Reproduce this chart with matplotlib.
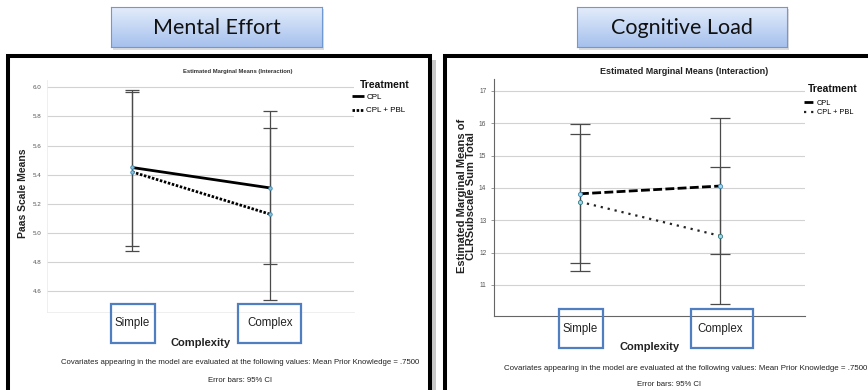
import matplotlib
matplotlib.use('Agg')
import matplotlib.pyplot as plt
import numpy as np
from matplotlib.patches import Rectangle
from matplotlib.colors import LinearSegmentedColormap

plt.rcParams['font.family'] = ['Liberation Sans', 'DejaVu Sans']

# ---------------- data ----------------
categories = ['Simple', 'Complex']
treatments = ['CPL', 'CPL + PBL']

me_cpl_mean = [5.45, 5.31]
me_cpl_low = [4.91, 4.79]
me_cpl_high = [5.98, 5.84]
me_pbl_mean = [5.42, 5.13]
me_pbl_low = [4.88, 4.54]
me_pbl_high = [5.97, 5.72]
me_yticks = [4.6, 4.8, 5.0, 5.2, 5.4, 5.6, 5.8, 6.0]

cl_cpl_mean = [13.82, 14.06]
cl_cpl_low = [11.68, 11.96]
cl_cpl_high = [15.97, 16.17]
cl_pbl_mean = [13.57, 12.52]
cl_pbl_low = [11.44, 10.42]
cl_pbl_high = [15.68, 14.65]
cl_yticks = [11, 12, 13, 14, 15, 16, 17]

panel_titles = ['Mental Effort', 'Cognitive Load']
chart_title = 'Estimated Marginal Means (Interaction)'
me_ylabel = 'Paas Scale Means'
cl_ylabel = 'Estimated Marginal Means of\nCLRSubscale Sum Total'
x_label = 'Complexity'
legend_title = 'Treatment'
cov_note = ('Covariates appearing in the model are evaluated at the following '
            'values: Mean Prior Knowledge = .7500')
err_note = 'Error bars: 95% CI'

# ---------------- layout helpers ----------------
W, H = 868, 390
fig = plt.figure(figsize=(W / 100, H / 100), dpi=100)
fig.patch.set_facecolor('white')


def fbox(x0, y0, x1, y1):
    return [x0 / W, 1 - y1 / H, (x1 - x0) / W, (y1 - y0) / H]


def fxy(x, y):
    return x / W, 1 - y / H


def frect(x0, y0, x1, y1, **kw):
    r = Rectangle(fxy(x0, y1), (x1 - x0) / W, (y1 - y0) / H,
                  transform=fig.transFigure, clip_on=False, **kw)
    fig.add_artist(r)
    return r


# ---------------- frames ----------------
frect(432, 60, 436, 400, facecolor='#c9c9c9', edgecolor='none', zorder=0.5)
frect(8, 56, 430, 400, facecolor='none', edgecolor='black', lw=2.9, zorder=3)
frect(445.5, 56, 900, 400, facecolor='none', edgecolor='black', lw=2.9, zorder=3)

# ---------------- title boxes ----------------
grad_cmap = LinearSegmentedColormap.from_list('g', ['#e3ecfb', '#a6c1ed'])
for (x0, x1), txt in zip([(111, 322), (577, 787)], panel_titles):
    frect(x0 + 2, 9, x1 + 2, 50, facecolor='#9a9a9a', edgecolor='none', alpha=0.35, zorder=1)
    axt = fig.add_axes(fbox(x0, 7, x1, 47), zorder=2)
    axt.imshow(np.linspace(0, 1, 50).reshape(-1, 1), aspect='auto', cmap=grad_cmap,
               extent=[0, 1, 0, 1], origin='upper')
    axt.set_xticks([])
    axt.set_yticks([])
    for s in axt.spines.values():
        s.set_color('#7099d4')
        s.set_linewidth(0.8)
    axt.text(0.5, 0.48, txt, transform=axt.transAxes, ha='center', va='center',
             fontsize=15.5, family=['Lato', 'DejaVu Sans'], color='#111111')

x = np.arange(len(categories))

# ---------------- left chart: Mental Effort ----------------
ax1 = fig.add_axes(fbox(47, 80, 354, 312))
ax1.set_xlim(-0.616, 1.609)
ax1.set_ylim(4.459, 6.05)
ax1.set_yticks(me_yticks)
ax1.set_yticklabels([f'{v:.1f}' for v in me_yticks])
ax1.yaxis.grid(True, color='#d2d2d2', lw=0.8)
ax1.set_axisbelow(True)
for s in ['top', 'right']:
    ax1.spines[s].set_visible(False)
for s in ['left', 'bottom']:
    ax1.spines[s].set_color('#ececec')
    ax1.spines[s].set_linewidth(0.6)
ax1.tick_params(axis='y', length=0, labelsize=4.5, labelcolor='#555555', pad=4)
ax1.set_xticks(x)
ax1.set_xticklabels(categories)
ax1.tick_params(axis='x', length=0, labelsize=8.3, labelcolor='#222222', pad=3.5)

ax1.errorbar(x, me_cpl_mean,
             yerr=[np.subtract(me_cpl_mean, me_cpl_low), np.subtract(me_cpl_high, me_cpl_mean)],
             fmt='none', ecolor='#4a4a4a', elinewidth=0.9, capsize=5, capthick=0.9, zorder=2)
ax1.errorbar(x, me_pbl_mean,
             yerr=[np.subtract(me_pbl_mean, me_pbl_low), np.subtract(me_pbl_high, me_pbl_mean)],
             fmt='none', ecolor='#4a4a4a', elinewidth=0.9, capsize=5, capthick=0.9, zorder=2)
ax1.plot(x, me_cpl_mean, color='black', lw=2.0, solid_capstyle='butt', label=treatments[0],
         zorder=3)
ax1.plot(x, me_pbl_mean, color='black', lw=2.0, linestyle=(0, (0.9, 0.6)),
         label=treatments[1], zorder=3)
ax1.plot(x, me_cpl_mean, 'o', ms=2.5, mfc='#8cc4e0', mec='#3a8ab3', mew=0.6, zorder=4)
ax1.plot(x, me_pbl_mean, 'o', ms=2.5, mfc='#8cc4e0', mec='#3a8ab3', mew=0.6, zorder=4)

ax1.set_ylabel(me_ylabel, fontsize=7.5, fontweight='bold', color='#222222')
ax1.yaxis.set_label_coords((23 - 47) / 307, (312 - 193) / 232)
ax1.yaxis.label.set_va('center')
ax1.set_xlabel(x_label, fontsize=8, fontweight='bold', color='#222222')
ax1.xaxis.set_label_coords(0.5, -(343 - 312) / 232)
ax1.xaxis.label.set_va('center')

fig.text(*fxy(360, 85), legend_title, fontsize=7.5, fontweight='bold', color='#111111',
         ha='left', va='center')
ax1.legend(loc='upper left', bbox_to_anchor=fxy(352, 93), bbox_transform=fig.transFigure,
           frameon=False, fontsize=5.8, handlelength=1.5, handletextpad=0.3,
           labelspacing=0.75, borderpad=0, borderaxespad=0)

fig.text(*fxy(238, 71), chart_title, fontsize=4.2, fontweight='bold', color='#333333',
         ha='center', va='center')
fig.text(*fxy(240, 363), cov_note, fontsize=5.6, color='#222222', ha='center', va='center')
fig.text(*fxy(240, 380), err_note, fontsize=5.6, color='#222222', ha='center', va='center')

for (bx0, bx1) in [(111, 155), (238, 301)]:
    frect(bx0, 304, bx1, 343, facecolor='none', edgecolor='#4f7fc0', lw=1.6, zorder=2)

# ---------------- right chart: Cognitive Load ----------------
ax2 = fig.add_axes(fbox(494, 79, 805, 316))
ax2.set_xlim(-0.614, 1.607)
ax2.set_ylim(10.04, 17.37)
ax2.set_yticks(cl_yticks)
ax2.yaxis.grid(True, color='#d2d2d2', lw=0.8)
ax2.set_axisbelow(True)
for s in ['top', 'right']:
    ax2.spines[s].set_visible(False)
for s in ['left', 'bottom']:
    ax2.spines[s].set_color('#666666')
    ax2.spines[s].set_linewidth(0.8)
ax2.tick_params(axis='y', length=2.5, width=0.6, color='#888888', labelsize=4.8,
                labelcolor='#555555', pad=3)
ax2.set_xticks(x)
ax2.set_xticklabels(categories)
ax2.tick_params(axis='x', length=0, labelsize=8.3, labelcolor='#222222', pad=5)

ax2.errorbar(x, cl_cpl_mean,
             yerr=[np.subtract(cl_cpl_mean, cl_cpl_low), np.subtract(cl_cpl_high, cl_cpl_mean)],
             fmt='none', ecolor='#4a4a4a', elinewidth=0.9, capsize=7.5, capthick=0.9, zorder=2)
ax2.errorbar(x, cl_pbl_mean,
             yerr=[np.subtract(cl_pbl_mean, cl_pbl_low), np.subtract(cl_pbl_high, cl_pbl_mean)],
             fmt='none', ecolor='#4a4a4a', elinewidth=0.9, capsize=7.5, capthick=0.9, zorder=2)
ax2.plot(x, cl_cpl_mean, color='black', lw=2.0, linestyle=(0, (3.2, 1.2)),
         label=treatments[0], zorder=3)
ax2.plot(x, cl_pbl_mean, color='#222222', lw=1.6, linestyle=(0, (1, 2.2)),
         label=treatments[1], zorder=3)
ax2.plot(x, cl_cpl_mean, 'o', ms=3, mfc='#a9d3ea', mec='#3a8ab3', mew=0.6, zorder=4)
ax2.plot(x, cl_pbl_mean, 'o', ms=3, mfc='#a9d3ea', mec='#2f7f86', mew=0.6, zorder=4)

ax2.set_ylabel(cl_ylabel, fontsize=8, fontweight='bold', color='#222222', linespacing=0.95)
ax2.yaxis.set_label_coords((466.5 - 494) / 311, (316 - 196) / 237)
ax2.yaxis.label.set_va('center')
ax2.set_xlabel(x_label, fontsize=8, fontweight='bold', color='#222222')
ax2.xaxis.set_label_coords(0.5, -(347 - 316) / 237)
ax2.xaxis.label.set_va('center')

fig.text(*fxy(808, 89), legend_title, fontsize=7.5, fontweight='bold', color='#111111',
         ha='left', va='center')
ax2.legend(loc='upper left', bbox_to_anchor=fxy(804, 99.5), bbox_transform=fig.transFigure,
           frameon=False, fontsize=5.3, handlelength=1.4, handletextpad=0.3,
           labelspacing=0.35, borderpad=0, borderaxespad=0)

fig.text(*fxy(684, 72), chart_title, fontsize=6.5, fontweight='bold', color='#222222',
         ha='center', va='center')
fig.text(*fxy(504, 368), cov_note, fontsize=5.7, color='#222222', ha='left', va='center')
fig.text(*fxy(669, 384), err_note, fontsize=5.6, color='#222222', ha='center', va='center')

for (bx0, bx1) in [(559, 603), (691, 753)]:
    frect(bx0, 309, bx1, 348, facecolor='none', edgecolor='#4f7fc0', lw=1.6, zorder=2)

fig.savefig('out.png', dpi=100, facecolor='white')
